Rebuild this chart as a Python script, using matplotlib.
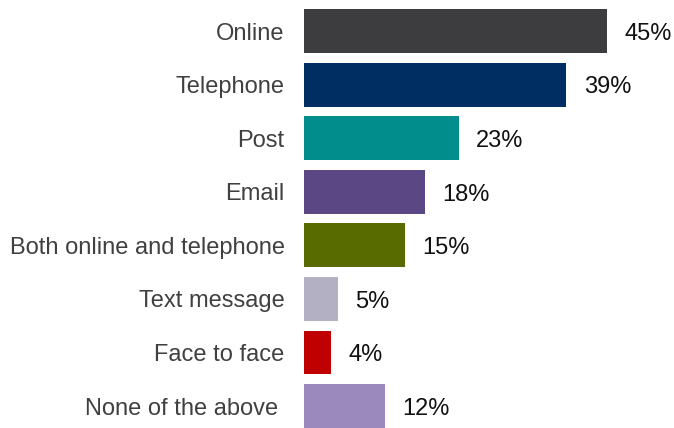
import matplotlib
matplotlib.use("Agg")
import matplotlib.pyplot as plt

# ---------------------------------------------------------------------------
# Data
# ---------------------------------------------------------------------------
categories = [
    "Online",
    "Telephone",
    "Post",
    "Email",
    "Both online and telephone",
    "Text message",
    "Face to face",
    "None of the above ",
]
values = [45, 39, 23, 18, 15, 5, 4, 12]
colors = [
    "#3d3d3f",
    "#002e62",
    "#008d8c",
    "#5b4783",
    "#586b00",
    "#b4b0c3",
    "#c00000",
    "#9b89bd",
]

plt.rcParams["font.family"] = ["Liberation Sans", "DejaVu Sans"]

fig = plt.figure(figsize=(6.74, 4.28), dpi=100)
ax = fig.add_axes([0.451, 0.0, 0.549, 1.0])

pos = list(range(len(categories)))
ax.barh(pos, values, height=0.82, color=colors)

for p, v in zip(pos, values):
    ax.annotate(f"{v}%", (v, p), xytext=(12.5, -2), textcoords="offset points",
                ha="left", va="center", fontsize=17, color="#111111")

ax.set_yticks(pos)
ax.set_yticklabels(categories, fontsize=17, color="#404040")
ax.tick_params(axis="y", length=0, pad=14)
ax.set_xticks([])
ax.set_xlim(0, 55)
ax.set_ylim(7.41, -0.58)
for s in ax.spines.values():
    s.set_visible(False)

fig.savefig("out.png", dpi=100)
